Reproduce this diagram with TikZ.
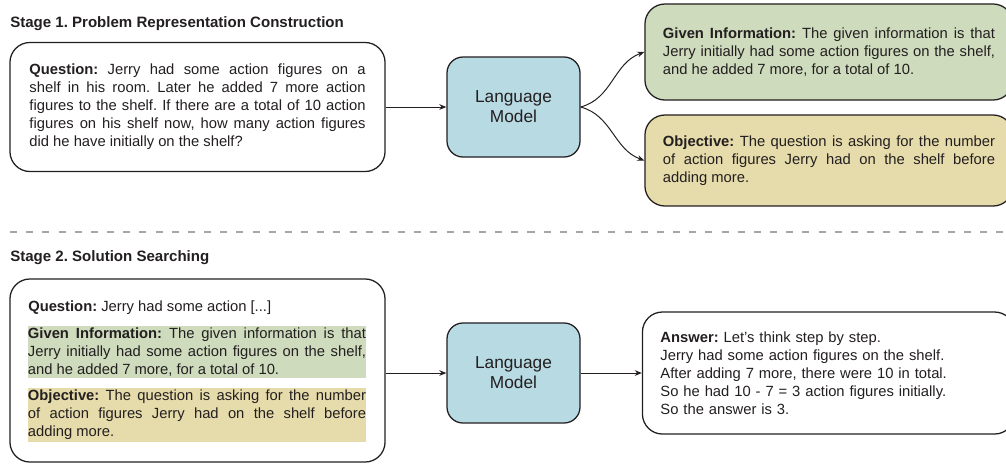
\documentclass[tikz,border=0pt]{standalone}
\usepackage{fontspec}
\setmainfont{Liberation Sans}
\usetikzlibrary{arrows.meta,positioning}

\definecolor{lmblue}{HTML}{B7DAE3}
\definecolor{infogreen}{HTML}{CEDBBD}
\definecolor{goalyellow}{HTML}{E6DBAA}
\definecolor{edgecol}{HTML}{231F20}
\definecolor{sepgray}{HTML}{A6A6A6}
\newcommand{\bodyfont}{\fontsize{10.5}{12.8}\selectfont}
\frenchspacing

\begin{document}
\begin{tikzpicture}[x=0.025cm, y=-0.025cm,
    box/.style={draw=edgecol, line width=0.9pt, rounded corners=0.5cm, fill=white},
    txtbox/.style={box, align=justify, font=\bodyfont, text=edgecol, inner ysep=0pt},
    lm/.style={box, fill=lmblue, rounded corners=0.4cm, minimum width=3.325cm,
      minimum height=2.5cm, align=center, text=edgecol,
      font=\fontsize{12.3}{14.2}\selectfont},
    band/.style={inner sep=0pt, text width=8.45cm, align=justify, text=edgecol, font=\bodyfont},
    title/.style={anchor=west, inner sep=0pt, text=edgecol, font=\fontsize{10.7}{12}\selectfont\bfseries},
    arr/.style={draw=edgecol, line width=0.7pt, -{Stealth[length=5pt,width=4pt]}},
    sepline/.style={draw=sepgray, line width=1.7pt, dash pattern=on 5pt off 6.5pt}]
  \useasboundingbox (0,0) rectangle (1006,463);

  % Stage 1
  \node[title] (t1) at (10,24) {Stage 1. Problem Representation Construction};

  \node[txtbox, text width=8.4cm, inner xsep=0.4875cm, minimum height=3.225cm] (q1) at (197.5,107)
    {\textbf{Question:} Jerry had some action figures on a\linebreak
     shelf in his room. Later he added 7 more action\linebreak
     figures to the shelf. If there are a total of 10 action\linebreak
     figures on his shelf now, how many action figures\linebreak
     did he have initially on the shelf?};

  \node[lm] (lm1) at (513.5,107) {Language\\Model};

  \node[txtbox, fill=infogreen, text width=8.3cm, inner xsep=0.45cm, minimum height=2.4cm] (info1) at (829,52)
    {\textbf{Given Information:} The given information is that\linebreak
     Jerry initially had some action figures on the shelf,\linebreak
     and he added 7 more, for a total of 10.};

  \node[txtbox, fill=goalyellow, text width=8.3cm, inner xsep=0.45cm, minimum height=2.275cm] (goal1) at (829,160.5)
    {\textbf{Objective:} The question is asking for the number\linebreak
     of action figures Jerry had on the shelf before\linebreak
     adding more.};

  \draw[arr] (q1.east) -- (lm1.west);
  \draw[arr] (lm1.east) to[out=15, in=200] (info1.west);
  \draw[arr] (lm1.east) to[out=-15, in=160] (goal1.west);

  % separation
  \draw[sepline] (10,232) -- (1006,232);

  % Stage 2
  \node[title] (t2) at (10,258) {Stage 2. Solution Searching};

  \node[box, minimum width=9.375cm, minimum height=4.575cm] (q2) at (197.5,370.5) {};
  \node[band, anchor=west] (q2text) at (28,308) {\textbf{Question:} Jerry had some action [...]};
  \node[band, fill=infogreen, minimum height=1.3cm] (info2) at (197,352)
    {\textbf{Given Information:} The given information is that\linebreak
     Jerry initially had some action figures on the shelf,\linebreak
     and he added 7 more, for a total of 10.};
  \node[band, fill=goalyellow, minimum height=1.35cm] (goal2) at (197,415)
    {\textbf{Objective:} The question is asking for the number\linebreak
     of action figures Jerry had on the shelf before\linebreak
     adding more.};

  \node[lm] (lm2) at (513.5,373) {Language\\Model};

  \node[txtbox, align=left, text width=8.4cm, inner xsep=0.45cm, minimum height=3.05cm] (answer) at (828.5,373)
    {\textbf{Answer:} Let's think step by step.\\
     Jerry had some action figures on the shelf.\\
     After adding 7 more, there were 10 in total.\\
     So he had 10 - 7 = 3 action figures initially.\\
     So the answer is 3.};

  \draw[arr] (q2.east |- lm2.west) -- (lm2.west);
  \draw[arr] (lm2.east) -- (answer.west);
\end{tikzpicture}
\end{document}
